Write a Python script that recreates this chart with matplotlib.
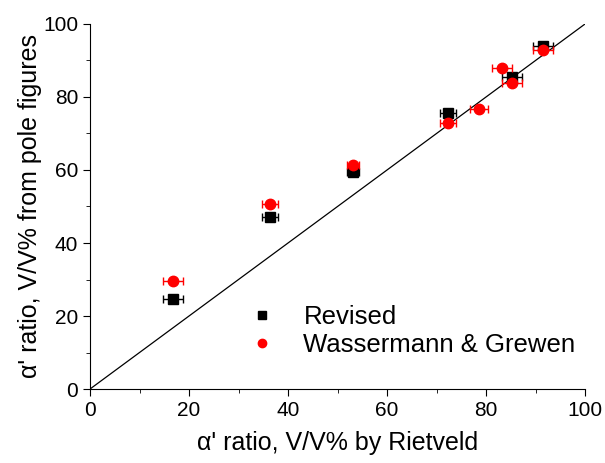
import matplotlib
matplotlib.use("Agg")
import matplotlib.pyplot as plt
from matplotlib.ticker import MultipleLocator
from matplotlib.lines import Line2D

plt.rcParams['font.family'] = ['Liberation Sans', 'DejaVu Sans']

rev_x = [16.8, 36.4, 53.1, 72.3, 85.3, 91.5]
rev_y = [24.7, 47.2, 59.5, 75.5, 85.4, 94.0]
rev_xerr = [2.0, 1.6, 1.2, 1.7, 2.0, 2.0]

wg_x = [16.8, 36.4, 53.1, 72.3, 78.6, 83.2, 85.3, 91.5]
wg_y = [29.7, 50.7, 61.3, 72.8, 76.7, 88.0, 83.8, 93.0]
wg_xerr = [2.0, 1.6, 1.2, 1.7, 1.8, 2.0, 2.0, 2.0]

diag = [0, 100]
labels = ['Revised', 'Wassermann & Grewen']

fig = plt.figure(figsize=(6.05, 4.63), dpi=100)
ax = fig.add_axes([0.1488, 0.1598, 0.8182, 0.7884])

ax.plot(diag, diag, color='black', lw=0.9, zorder=1)
ax.errorbar(rev_x, rev_y, xerr=rev_xerr, fmt='s', color='black', ms=6.5,
            ecolor='black', elinewidth=1, capsize=3, capthick=1, zorder=3)
ax.errorbar(wg_x, wg_y, xerr=wg_xerr, fmt='o', color='red', ms=7.5,
            ecolor='red', elinewidth=1, capsize=3, capthick=1, zorder=4)

ax.set_xlim(0, 100)
ax.set_ylim(0, 100)
ax.xaxis.set_major_locator(MultipleLocator(20))
ax.xaxis.set_minor_locator(MultipleLocator(10))
ax.yaxis.set_major_locator(MultipleLocator(20))
ax.yaxis.set_minor_locator(MultipleLocator(10))
for s in ['top', 'right']:
    ax.spines[s].set_visible(False)
ax.tick_params(which='both', direction='out', labelsize=15)
ax.tick_params(which='major', length=5)
ax.tick_params(which='minor', length=3)

ax.set_xlabel("α' ratio, V/V% by Rietveld", fontsize=18, labelpad=8)
ax.set_ylabel("α' ratio, V/V% from pole figures", fontsize=18, labelpad=1)

h = [Line2D([], [], marker='s', color='black', ls='none', ms=6),
     Line2D([], [], marker='o', color='red', ls='none', ms=6)]
ax.legend(h, labels, loc='center left', bbox_to_anchor=(0.322, 0.159),
          frameon=False, fontsize=18.5, borderpad=0, borderaxespad=0,
          handlelength=1.0, handletextpad=1.1, labelspacing=0.18)

fig.savefig('out.png', dpi=100)
